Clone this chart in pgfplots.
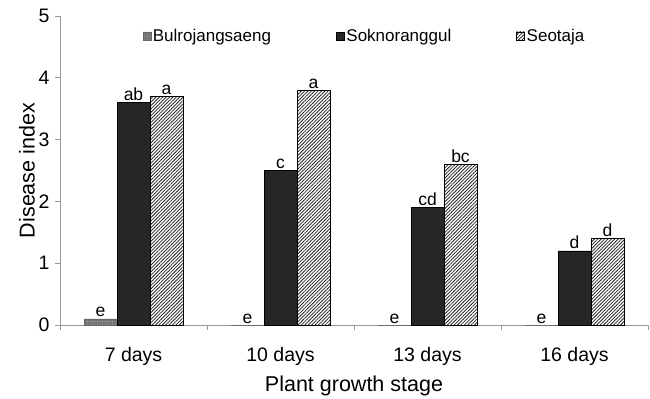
\documentclass[border=0pt]{standalone}
\usepackage{pgfplots}
\pgfplotsset{compat=1.18}
\usepackage{fontspec}
\setmainfont{Liberation Sans}
\usetikzlibrary{patterns,patterns.meta}
\begin{document}
\begin{tikzpicture}
\begin{axis}[
  at={(0,0)}, anchor=south west,
  scale only axis,
  width=588bp, height=309bp,
  ybar=0pt, bar width=33bp,
  xmin=-0.5, xmax=3.5, ymin=0, ymax=5,
  axis x line*=bottom, axis y line*=left,
  axis line style={draw=gray!80, line width=0.8bp},
  xtick={-0.5,0.5,1.5,2.5,3.5},
  x tick label as interval,
  xticklabels={7 days,10 days,13 days,16 days},
  ytick={0,1,2,3,4,5},
  tick align=outside,
  major tick length=5bp,
  tick style={draw=gray!80, line width=0.8bp},
  /pgf/number format/assume math mode=true,
  ticklabel style={font=\fontsize{19.5bp}{21bp}\selectfont},
  xticklabel style={yshift=-14bp},
  yticklabel style={xshift=-2bp},
  xlabel={Plant growth stage},
  ylabel={Disease index},
  label style={font=\fontsize{21.5bp}{23bp}\selectfont},
  xlabel style={yshift=-3bp},
  ylabel style={yshift=-3bp},
  legend style={draw=none, fill=none, at={(0.14,0.965)}, anchor=north west,
    legend columns=-1, font=\fontsize{17bp}{19bp}\selectfont,
    /tikz/every even column/.append style={column sep=63bp},
    inner sep=0pt},
  legend image code/.code={\draw[#1] (0bp,-4bp) rectangle (8bp,4bp);},
  nodes near coords,
  point meta=explicit symbolic,
  every node near coord/.append style={font=\fontsize{17.5bp}{19bp}\selectfont, inner sep=1.5bp, anchor=south},
]
\addplot[draw=gray!80!black, fill=black!55, postaction={pattern={Dots[distance=2.5bp,radius=0.45bp]}, pattern color=gray!35}]
  coordinates {(0,0.1) [e] (1,0) [e] (2,0) [e] (3,0) [e]};
\addplot[draw=black, fill=black!85]
  coordinates {(0,3.6) [ab] (1,2.5) [c] (2,1.9) [cd] (3,1.2) [d]};
\addplot[draw=black, fill=white, postaction={pattern={Lines[angle=45,distance=2.4bp,line width=0.8bp]}, pattern color=black!85}]
  coordinates {(0,3.7) [a] (1,3.8) [a] (2,2.6) [bc] (3,1.4) [d]};
\legend{Bulrojangsaeng,Soknoranggul,Seotaja}
\end{axis}
\pgfresetboundingbox
\useasboundingbox (-60bp,-74bp) rectangle (590bp,325bp);
\end{tikzpicture}
\end{document}
